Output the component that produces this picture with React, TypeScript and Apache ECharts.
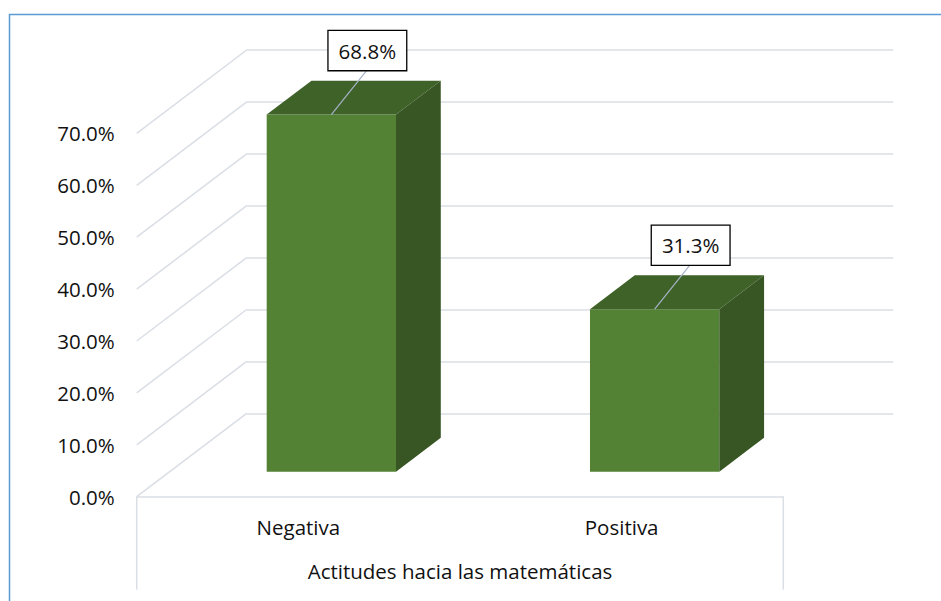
import React, { useEffect, useRef } from "react";
import * as echarts from "echarts";

const categories = ["Negativa", "Positiva"];
const values = [68.8, 31.3];
const yTicks = [0, 10, 20, 30, 40, 50, 60, 70];
const axisTitle = "Actitudes hacia las matemáticas";

const FONT = "'Open Sans'";
const FS = 20.5;
const DEPTH = [110, -83.4];
const BAR_FRONT = 0.3;
const BAR_BACK = 0.707;
const BAR_FRAC = 0.4;
const GRID = { left: 136.7, top: 133.4, width: 646.6, height: 363.3 };
const GRID_COLOR = "#DADEE5";

export default function App() {
  const ref = useRef<HTMLDivElement>(null);
  useEffect(() => {
    if (!ref.current) return;
    const chart = echarts.init(ref.current, null, { renderer: "svg" });
    const fdx = DEPTH[0] * BAR_FRONT;
    const fdy = DEPTH[1] * BAR_FRONT;
    const bdx = DEPTH[0] * (BAR_BACK - BAR_FRONT);
    const bdy = DEPTH[1] * (BAR_BACK - BAR_FRONT);

    const option: any = {
      animation: false,
      backgroundColor: "#ffffff",
      graphic: [
        {
          type: "rect",
          shape: { x: 9.5, y: 14.5, width: 960, height: 620 },
          style: { fill: "none", stroke: "#5B9BD5", lineWidth: 1.5 },
          z: 100,
        },
      ],
      grid: [
        { ...GRID, containLabel: false },
        {
          left: GRID.left + DEPTH[0],
          top: GRID.top + DEPTH[1],
          width: GRID.width,
          height: GRID.height,
          containLabel: false,
        },
      ],
      xAxis: [
        {
          type: "category",
          gridIndex: 0,
          data: categories,
          boundaryGap: true,
          axisLine: { show: true, lineStyle: { color: GRID_COLOR, width: 1.5 } },
          axisTick: { show: false },
          axisLabel: { color: "#111", fontFamily: FONT, fontSize: FS, margin: 20 },
          name: axisTitle,
          nameLocation: "middle",
          nameGap: 64,
          nameTextStyle: { color: "#111", fontFamily: FONT, fontSize: FS },
        },
        { type: "category", gridIndex: 1, data: categories, show: false },
      ],
      yAxis: [
        {
          type: "value",
          gridIndex: 0,
          min: 0,
          max: 70,
          interval: 10,
          axisLine: { show: false },
          axisTick: { show: false },
          splitLine: { show: false },
          axisLabel: {
            color: "#111",
            fontFamily: FONT,
            fontSize: FS,
            margin: 22,
            formatter: (v: number) => v.toFixed(1) + "%",
          },
        },
        {
          type: "value",
          gridIndex: 1,
          min: 0,
          max: 70,
          interval: 10,
          axisLine: { show: false },
          axisTick: { show: false },
          axisLabel: { show: false },
          splitLine: { show: true, lineStyle: { color: GRID_COLOR, width: 1.5 } },
        },
      ],
      series: [
        {
          type: "custom",
          name: "frame",
          xAxisIndex: 0,
          yAxisIndex: 0,
          data: yTicks.map((t) => [0, t]),
          encode: { x: 0, y: 1 },
          z: 1,
          silent: true,
          renderItem: (params: any, api: any) => {
            const cs = params.coordSys;
            const t = api.value(1);
            const y = api.coord([0, t])[1];
            const children: any[] = [
              {
                type: "line",
                shape: { x1: cs.x, y1: y, x2: cs.x + DEPTH[0], y2: y + DEPTH[1] },
                style: { stroke: GRID_COLOR, lineWidth: 1.5 },
              },
            ];
            if (params.dataIndex === 0) {
              const yb = api.coord([0, 0])[1];
              children.push(
                {
                  type: "line",
                  shape: { x1: cs.x, y1: yb, x2: cs.x, y2: yb + 93 },
                  style: { stroke: GRID_COLOR, lineWidth: 1.5 },
                },
                {
                  type: "line",
                  shape: { x1: cs.x + cs.width, y1: yb, x2: cs.x + cs.width, y2: yb + 93 },
                  style: { stroke: GRID_COLOR, lineWidth: 1.5 },
                }
              );
            }
            return { type: "group", children };
          },
        },
        {
          type: "custom",
          name: "Actitudes",
          xAxisIndex: 0,
          yAxisIndex: 0,
          data: values.map((v, i) => [i, v]),
          encode: { x: 0, y: 1 },
          z: 3,
          renderItem: (params: any, api: any) => {
            const cat = api.value(0);
            const v = api.value(1);
            const top = api.coord([cat, v]);
            const base = api.coord([cat, 0]);
            const bw = api.size([1, 0])[0] * BAR_FRAC;
            const fx = base[0] - bw / 2 + fdx;
            const fyB = base[1] + fdy;
            const fyT = top[1] + fdy;
            const cx = fx + bw / 2;
            const lx = cx + 36;
            const ly = fyT - 64;
            return {
              type: "group",
              children: [
                { type: "rect", shape: { x: fx, y: fyT, width: bw, height: fyB - fyT }, style: { fill: "#548235" } },
                {
                  type: "polygon",
                  shape: { points: [[fx, fyT], [fx + bw, fyT], [fx + bw + bdx, fyT + bdy], [fx + bdx, fyT + bdy]] },
                  style: { fill: "#3F6229" },
                },
                {
                  type: "polygon",
                  shape: { points: [[fx + bw, fyT], [fx + bw + bdx, fyT + bdy], [fx + bw + bdx, fyB + bdy], [fx + bw, fyB]] },
                  style: { fill: "#375623" },
                },
                { type: "line", shape: { x1: cx, y1: fyT, x2: lx, y2: ly + 19 }, style: { stroke: "#A6B4C8", lineWidth: 1.2 } },
                {
                  type: "text",
                  x: lx,
                  y: ly,
                  style: {
                    text: v.toFixed(1) + "%",
                    fill: "#111",
                    font: `${FS}px ${FONT}`,
                    align: "center",
                    verticalAlign: "middle",
                    backgroundColor: "#ffffff",
                    borderColor: "#000000",
                    borderWidth: 1.3,
                    padding: [9, 10, 9, 10],
                  },
                },
              ],
            };
          },
        },
      ],
    };
    chart.setOption(option);
    return () => chart.dispose();
  }, []);
  return <div ref={ref} style={{ position: "fixed", left: 0, top: 0, width: 941, height: 601 }} />;
}
